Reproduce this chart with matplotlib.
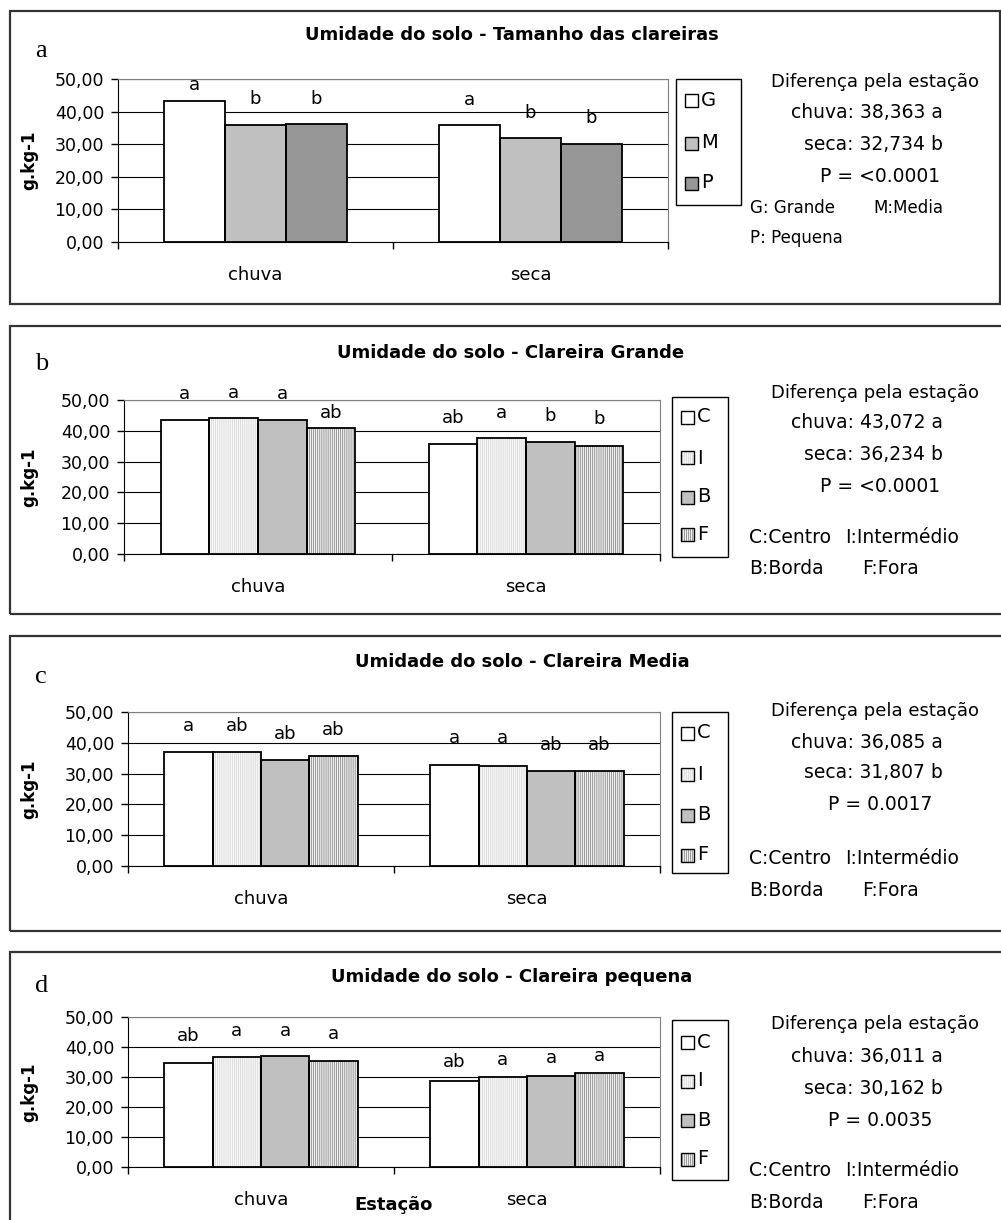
import numpy as np
import matplotlib.pyplot as plt
from matplotlib.patches import Rectangle

W, H = 1001, 1220

seasons = ['chuva', 'seca']

# a: gap size
size_names = ['G', 'M', 'P']
size_vals = [[43.2, 35.9], [36.0, 31.8], [36.1, 30.0]]
size_marks = [['a', 'a'], ['b', 'b'], ['b', 'b']]

# b, c, d: position inside the gap
pos_names = ['C', 'I', 'B', 'F']
grande_vals = [[43.5, 35.6], [44.3, 37.6], [43.6, 36.5], [40.9, 35.2]]
grande_marks = [['a', 'ab'], ['a', 'a'], ['a', 'b'], ['ab', 'b']]
media_vals = [[37.1, 32.7], [37.1, 32.6], [34.5, 31.0], [35.7, 30.9]]
media_marks = [['a', 'a'], ['ab', 'a'], ['ab', 'ab'], ['ab', 'ab']]
pequena_vals = [[34.8, 28.7], [36.8, 30.1], [37.0, 30.3], [35.4, 31.4]]
pequena_marks = [['ab', 'ab'], ['a', 'a'], ['a', 'a'], ['a', 'a']]

season_means = {
    'a': ('38,363 a', '32,734 b', 'P = <0.0001'),
    'b': ('43,072 a', '36,234 b', 'P = <0.0001'),
    'c': ('36,085 a', '31,807 b', 'P = 0.0017'),
    'd': ('36,011 a', '30,162 b', 'P = 0.0035'),
}

plt.rcParams['font.family'] = 'DejaVu Sans'
plt.rcParams['hatch.linewidth'] = 0.5

styles = {
    'G': dict(fc='white'),
    'M': dict(fc='#c0c0c0'),
    'P': dict(fc='#969696'),
    'C': dict(fc='white'),
    'I': dict(fc='#f7f7f7', hatch='|' * 8, hc='#d4d4d4'),
    'B': dict(fc='#c0c0c0'),
    'F': dict(fc='#eeeeee', hatch='|' * 8, hc='#7a7a7a'),
}


def fx(x):
    return x / W


def fy(y):
    return 1 - y / H


fig = plt.figure(figsize=(W / 100, H / 100), dpi=100)

panels = [
    dict(letter='a', title='Umidade do solo - Tamanho das clareiras',
         frame=(10, 11, 1000, 304), title_xy=(512, 35), letter_y=57,
         ax=(118, 79, 668, 242), names=size_names, vals=size_vals, marks=size_marks,
         lift=[[5.0, 7.8], [7.8, 7.9], [7.8, 8.0]],
         leg=(676, 79, 741, 205), leg_y=[100, 143, 183],
         txt_y=[82, 113, 145, 177], keys=[('G: Grande', 750, 208), ('M:Media', 873, 208),
                                          ('P: Pequena', 750, 238)]),
    dict(letter='b', title='Umidade do solo - Clareira Grande',
         frame=(10, 326, 1012, 614), title_xy=(511, 353), letter_y=370,
         ax=(124, 400, 660, 554), names=pos_names, vals=grande_vals, marks=grande_marks,
         lift=[[8.4, 8.6], [8.1, 8.2], [8.3, 8.2], [5.0, 8.5]],
         leg=(672, 397, 728, 557), leg_y=[417, 458, 497, 534],
         txt_y=[393, 423, 455, 487], keys=[('C:Centro', 749, 537), ('I:Intermédio', 845, 537),
                                           ('B:Borda', 749, 568), ('F:Fora', 862, 568)]),
    dict(letter='c', title='Umidade do solo - Clareira Media',
         frame=(10, 636, 1012, 931), title_xy=(522, 662), letter_y=683,
         ax=(128, 712, 660, 866), names=pos_names, vals=media_vals, marks=media_marks,
         lift=[[8.3, 8.7], [8.3, 8.8], [8.4, 8.2], [8.6, 8.3]],
         leg=(672, 712, 728, 873), leg_y=[733, 774, 815, 855],
         txt_y=[711, 742, 773, 805], keys=[('C:Centro', 749, 858), ('I:Intermédio', 845, 858),
                                           ('B:Borda', 749, 890), ('F:Fora', 862, 890)]),
    dict(letter='d', title='Umidade do solo - Clareira pequena',
         frame=(10, 952, 1012, 1232), title_xy=(512, 977), letter_y=992,
         ax=(128, 1017, 660, 1167), names=pos_names, vals=pequena_vals, marks=pequena_marks,
         lift=[[9.0, 6.3], [8.6, 5.7], [8.4, 6.0], [8.9, 5.7]],
         leg=(672, 1020, 728, 1180), leg_y=[1042, 1081, 1120, 1159],
         txt_y=[1024, 1056, 1088, 1120], keys=[('C:Centro', 749, 1170), ('I:Intermédio', 845, 1170),
                                               ('B:Borda', 749, 1202), ('F:Fora', 862, 1202)]),
]

for p in panels:
    # outer frame of each chart
    x0, y0, x1, y1 = p['frame']
    fig.add_artist(Rectangle((fx(x0), fy(y1)), (x1 - x0) / W, (y1 - y0) / H,
                             transform=fig.transFigure, fill=False,
                             edgecolor='#333333', linewidth=1.6))
    fig.text(fx(35), fy(p['letter_y']), p['letter'], family='Liberation Serif',
             fontsize=19, va='baseline', ha='left')
    fig.text(fx(p['title_xy'][0]), fy(p['title_xy'][1]), p['title'],
             fontsize=13, weight='bold', ha='center', va='center')

    ax0, at, ax1, ab = p['ax']
    ax = fig.add_axes([fx(ax0), fy(ab), (ax1 - ax0) / W, (ab - at) / H])
    n = len(p['names'])
    w = 1 / (n + 1.5)
    base = np.arange(len(seasons)) + 0.5
    for j, name in enumerate(p['names']):
        st = styles[name]
        xs = base + (j - (n - 1) / 2) * w
        vals = p['vals'][j]
        ax.bar(xs, vals, w, color=st['fc'], edgecolor=st.get('hc', st['fc']),
               hatch=st.get('hatch'), linewidth=0, zorder=2)
        ax.bar(xs, vals, w, fill=False, edgecolor='black', linewidth=1.3, zorder=3)
        for xi, v, m, d in zip(xs, vals, p['marks'][j], p['lift'][j]):
            ax.text(xi, v + d, m, ha='center', va='center', fontsize=13, clip_on=False)

    ax.set_xlim(0, 2)
    ax.set_ylim(0, 50)
    ticks = np.arange(0, 51, 10)
    ax.set_yticks(ticks)
    ax.set_yticklabels([f'{t:.2f}'.replace('.', ',') for t in ticks])
    ax.set_xticks([0, 1, 2])
    ax.set_xticklabels([])
    ax.tick_params(axis='y', direction='out', length=5, width=1, labelsize=12.5, pad=5)
    ax.tick_params(axis='x', direction='out', length=5, width=1)
    ax.yaxis.grid(True, color='black', linewidth=0.8)
    ax.set_axisbelow(True)
    for s in ['top', 'right']:
        ax.spines[s].set_color('#808080')
    for s in ['left', 'bottom']:
        ax.spines[s].set_color('black')
    for xi, lab in zip(base, seasons):
        ax.annotate(lab, (xi, 0), xycoords=('data', 'axes fraction'),
                    xytext=(0, -23.8), textcoords='offset points',
                    ha='center', va='center', fontsize=13)
    fig.text(fx(29), fy((at + ab) / 2), 'g.kg-1', rotation=90, fontsize=12,
             weight='bold', ha='center', va='center')
    if p['letter'] == 'd':
        ax.annotate('Estação', (0.5, 0), xycoords='axes fraction',
                    xytext=(0, -27.4), textcoords='offset points',
                    ha='center', va='center', fontsize=13, weight='bold')

    # legend box
    lx0, ly0, lx1, ly1 = p['leg']
    fig.add_artist(Rectangle((fx(lx0), fy(ly1)), (lx1 - lx0) / W, (ly1 - ly0) / H,
                             transform=fig.transFigure, fill=False,
                             edgecolor='black', linewidth=1))
    for name, yy in zip(p['names'], p['leg_y']):
        st = styles[name]
        sq = 13
        fig.add_artist(Rectangle((fx(lx0 + 9), fy(yy + sq / 2)), sq / W, sq / H,
                                 transform=fig.transFigure, facecolor=st['fc'],
                                 edgecolor=st.get('hc', st['fc']), hatch=st.get('hatch'),
                                 linewidth=0))
        fig.add_artist(Rectangle((fx(lx0 + 9), fy(yy + sq / 2)), sq / W, sq / H,
                                 transform=fig.transFigure, fill=False,
                                 edgecolor='black', linewidth=1))
        fig.text(fx(lx0 + 25), fy(yy), name, fontsize=14, ha='left', va='center')

    # season comparison text
    chuva, seca, pval = season_means[p['letter']]
    ty = p['txt_y']
    fig.text(fx(875), fy(ty[0]), 'Diferença pela estação', fontsize=13, ha='center', va='center')
    fig.text(fx(867), fy(ty[1]), 'chuva: ' + chuva, fontsize=13.5, ha='center', va='center')
    fig.text(fx(873), fy(ty[2]), 'seca: ' + seca, fontsize=13.5, ha='center', va='center')
    fig.text(fx(880), fy(ty[3]), pval, fontsize=13.5, ha='center', va='center')
    ksize = 12 if p['letter'] == 'a' else 13.5
    for s, kx, ky in p['keys']:
        fig.text(fx(kx), fy(ky), s, fontsize=ksize, ha='left', va='center')

fig.savefig('out.png', dpi=100)
